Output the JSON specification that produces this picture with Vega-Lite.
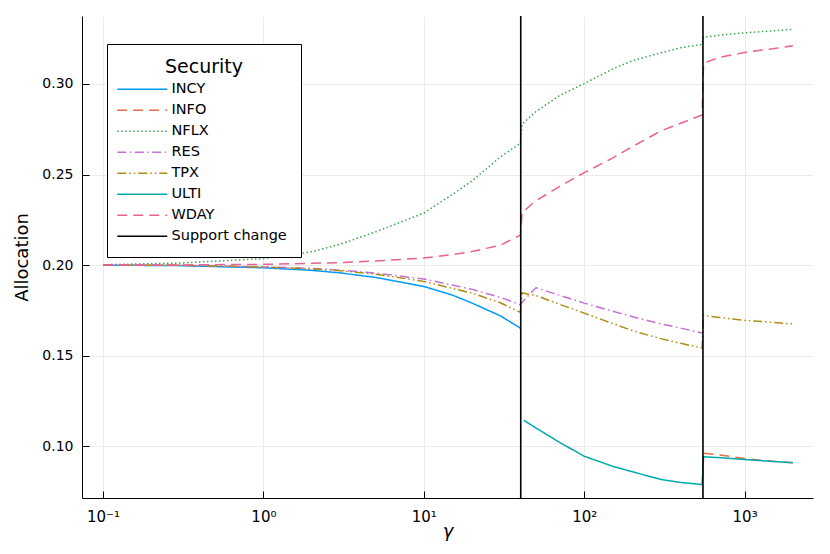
{
  "$schema": "https://vega.github.io/schema/vega-lite/v6.json",
  "autosize": {"type": "none"},
  "padding": {"left": 82, "top": 16, "right": 17, "bottom": 56},
  "width": 731,
  "height": 482,
  "config": {
    "view": {"stroke": null},
    "font": "DejaVu Sans",
    "axis": {
      "domainColor": "black",
      "domainWidth": 1,
      "tickColor": "black",
      "tickWidth": 1,
      "tickSize": -7,
      "gridColor": "#ebebeb",
      "gridWidth": 1,
      "labelColor": "black",
      "titleColor": "black",
      "titleFontWeight": "normal"
    },
    "legend": {
      "orient": "none",
      "legendX": 25,
      "legendY": 28,
      "strokeColor": "black",
      "fillColor": "white",
      "padding": 14,
      "titleFontSize": 19,
      "titleFontWeight": "normal",
      "titleColor": "black",
      "titleAnchor": "middle",
      "titlePadding": 5,
      "labelFontSize": 14.5,
      "labelColor": "black",
      "symbolType": "M-5,0H5",
      "symbolSize": 100,
      "symbolOffset": 14,
      "labelOffset": 22,
      "symbolStrokeWidth": 1.5,
      "rowPadding": 6
    }
  },
  "layer": [
    {
      "data": {
        "values": [
          {"gamma": 0.1, "security": "INCY", "allocation": 0.2000},
          {"gamma": 0.3, "security": "INCY", "allocation": 0.1997},
          {"gamma": 1, "security": "INCY", "allocation": 0.1985},
          {"gamma": 2, "security": "INCY", "allocation": 0.1971},
          {"gamma": 3, "security": "INCY", "allocation": 0.1957},
          {"gamma": 5, "security": "INCY", "allocation": 0.1932},
          {"gamma": 10, "security": "INCY", "allocation": 0.1882},
          {"gamma": 15, "security": "INCY", "allocation": 0.1835},
          {"gamma": 20, "security": "INCY", "allocation": 0.1790},
          {"gamma": 30, "security": "INCY", "allocation": 0.1720},
          {"gamma": 40, "security": "INCY", "allocation": 0.1652},

          {"gamma": 555, "security": "INFO", "allocation": 0.0962},
          {"gamma": 700, "security": "INFO", "allocation": 0.0952},
          {"gamma": 1000, "security": "INFO", "allocation": 0.0932},
          {"gamma": 1500, "security": "INFO", "allocation": 0.0917},
          {"gamma": 2000, "security": "INFO", "allocation": 0.0909},

          {"gamma": 0.1, "security": "NFLX", "allocation": 0.2002},
          {"gamma": 0.3, "security": "NFLX", "allocation": 0.2011},
          {"gamma": 1, "security": "NFLX", "allocation": 0.2036},
          {"gamma": 2, "security": "NFLX", "allocation": 0.2073},
          {"gamma": 3, "security": "NFLX", "allocation": 0.2115},
          {"gamma": 5, "security": "NFLX", "allocation": 0.2183},
          {"gamma": 10, "security": "NFLX", "allocation": 0.2287},
          {"gamma": 15, "security": "NFLX", "allocation": 0.2389},
          {"gamma": 20, "security": "NFLX", "allocation": 0.2465},
          {"gamma": 30, "security": "NFLX", "allocation": 0.2597},
          {"gamma": 40, "security": "NFLX", "allocation": 0.2672},
          {"gamma": 41, "security": "NFLX", "allocation": 0.2778},
          {"gamma": 50, "security": "NFLX", "allocation": 0.2847},
          {"gamma": 70, "security": "NFLX", "allocation": 0.2935},
          {"gamma": 100, "security": "NFLX", "allocation": 0.3002},
          {"gamma": 150, "security": "NFLX", "allocation": 0.3082},
          {"gamma": 200, "security": "NFLX", "allocation": 0.3128},
          {"gamma": 300, "security": "NFLX", "allocation": 0.3172},
          {"gamma": 400, "security": "NFLX", "allocation": 0.3200},
          {"gamma": 543, "security": "NFLX", "allocation": 0.3218},
          {"gamma": 555, "security": "NFLX", "allocation": 0.3257},
          {"gamma": 700, "security": "NFLX", "allocation": 0.3269},
          {"gamma": 1000, "security": "NFLX", "allocation": 0.3282},
          {"gamma": 1500, "security": "NFLX", "allocation": 0.3293},
          {"gamma": 2000, "security": "NFLX", "allocation": 0.3301},

          {"gamma": 0.1, "security": "RES", "allocation": 0.2000},
          {"gamma": 0.3, "security": "RES", "allocation": 0.1999},
          {"gamma": 1, "security": "RES", "allocation": 0.1990},
          {"gamma": 2, "security": "RES", "allocation": 0.1982},
          {"gamma": 3, "security": "RES", "allocation": 0.1972},
          {"gamma": 5, "security": "RES", "allocation": 0.1956},
          {"gamma": 10, "security": "RES", "allocation": 0.1923},
          {"gamma": 15, "security": "RES", "allocation": 0.1890},
          {"gamma": 20, "security": "RES", "allocation": 0.1866},
          {"gamma": 30, "security": "RES", "allocation": 0.1822},
          {"gamma": 40, "security": "RES", "allocation": 0.1781},
          {"gamma": 41, "security": "RES", "allocation": 0.1795},
          {"gamma": 50, "security": "RES", "allocation": 0.1875},
          {"gamma": 70, "security": "RES", "allocation": 0.1834},
          {"gamma": 100, "security": "RES", "allocation": 0.1790},
          {"gamma": 150, "security": "RES", "allocation": 0.1746},
          {"gamma": 200, "security": "RES", "allocation": 0.1715},
          {"gamma": 300, "security": "RES", "allocation": 0.1676},
          {"gamma": 400, "security": "RES", "allocation": 0.1652},
          {"gamma": 543, "security": "RES", "allocation": 0.1625},

          {"gamma": 0.1, "security": "TPX", "allocation": 0.2000},
          {"gamma": 0.3, "security": "TPX", "allocation": 0.1999},
          {"gamma": 1, "security": "TPX", "allocation": 0.1989},
          {"gamma": 2, "security": "TPX", "allocation": 0.1979},
          {"gamma": 3, "security": "TPX", "allocation": 0.1969},
          {"gamma": 5, "security": "TPX", "allocation": 0.1950},
          {"gamma": 10, "security": "TPX", "allocation": 0.1910},
          {"gamma": 15, "security": "TPX", "allocation": 0.1872},
          {"gamma": 20, "security": "TPX", "allocation": 0.1845},
          {"gamma": 30, "security": "TPX", "allocation": 0.1792},
          {"gamma": 40, "security": "TPX", "allocation": 0.1739},
          {"gamma": 41, "security": "TPX", "allocation": 0.1846},
          {"gamma": 50, "security": "TPX", "allocation": 0.1832},
          {"gamma": 70, "security": "TPX", "allocation": 0.1784},
          {"gamma": 100, "security": "TPX", "allocation": 0.1735},
          {"gamma": 150, "security": "TPX", "allocation": 0.1678},
          {"gamma": 200, "security": "TPX", "allocation": 0.1638},
          {"gamma": 300, "security": "TPX", "allocation": 0.1594},
          {"gamma": 400, "security": "TPX", "allocation": 0.1568},
          {"gamma": 543, "security": "TPX", "allocation": 0.1542},
          {"gamma": 555, "security": "TPX", "allocation": 0.1722},
          {"gamma": 700, "security": "TPX", "allocation": 0.1711},
          {"gamma": 1000, "security": "TPX", "allocation": 0.1695},
          {"gamma": 1500, "security": "TPX", "allocation": 0.1684},
          {"gamma": 2000, "security": "TPX", "allocation": 0.1675},

          {"gamma": 42, "security": "ULTI", "allocation": 0.1143},
          {"gamma": 50, "security": "ULTI", "allocation": 0.1101},
          {"gamma": 70, "security": "ULTI", "allocation": 0.1022},
          {"gamma": 100, "security": "ULTI", "allocation": 0.0945},
          {"gamma": 150, "security": "ULTI", "allocation": 0.0890},
          {"gamma": 200, "security": "ULTI", "allocation": 0.0859},
          {"gamma": 300, "security": "ULTI", "allocation": 0.0817},
          {"gamma": 400, "security": "ULTI", "allocation": 0.0800},
          {"gamma": 543, "security": "ULTI", "allocation": 0.0789},
          {"gamma": 555, "security": "ULTI", "allocation": 0.0942},
          {"gamma": 700, "security": "ULTI", "allocation": 0.0937},
          {"gamma": 1000, "security": "ULTI", "allocation": 0.0927},
          {"gamma": 1500, "security": "ULTI", "allocation": 0.0916},
          {"gamma": 2000, "security": "ULTI", "allocation": 0.0909},

          {"gamma": 0.1, "security": "WDAY", "allocation": 0.2000},
          {"gamma": 0.3, "security": "WDAY", "allocation": 0.2001},
          {"gamma": 1, "security": "WDAY", "allocation": 0.2004},
          {"gamma": 2, "security": "WDAY", "allocation": 0.2010},
          {"gamma": 3, "security": "WDAY", "allocation": 0.2014},
          {"gamma": 5, "security": "WDAY", "allocation": 0.2022},
          {"gamma": 10, "security": "WDAY", "allocation": 0.2039},
          {"gamma": 15, "security": "WDAY", "allocation": 0.2058},
          {"gamma": 20, "security": "WDAY", "allocation": 0.2075},
          {"gamma": 30, "security": "WDAY", "allocation": 0.2110},
          {"gamma": 40, "security": "WDAY", "allocation": 0.2165},
          {"gamma": 41, "security": "WDAY", "allocation": 0.2290},
          {"gamma": 50, "security": "WDAY", "allocation": 0.2355},
          {"gamma": 70, "security": "WDAY", "allocation": 0.2433},
          {"gamma": 100, "security": "WDAY", "allocation": 0.2510},
          {"gamma": 150, "security": "WDAY", "allocation": 0.2590},
          {"gamma": 200, "security": "WDAY", "allocation": 0.2654},
          {"gamma": 300, "security": "WDAY", "allocation": 0.2740},
          {"gamma": 400, "security": "WDAY", "allocation": 0.2783},
          {"gamma": 543, "security": "WDAY", "allocation": 0.2829},
          {"gamma": 555, "security": "WDAY", "allocation": 0.3115},
          {"gamma": 700, "security": "WDAY", "allocation": 0.3147},
          {"gamma": 1000, "security": "WDAY", "allocation": 0.3174},
          {"gamma": 1500, "security": "WDAY", "allocation": 0.3194},
          {"gamma": 2000, "security": "WDAY", "allocation": 0.3211}
        ]
      },
      "mark": {"type": "line", "strokeWidth": 1.5, "clip": true},
      "encoding": {
        "x": {
          "field": "gamma",
          "type": "quantitative",
          "scale": {"type": "log", "domain": [0.07396, 2669], "nice": false},
          "axis": {
            "values": [0.1, 1, 10, 100, 1000],
            "labelExpr": "datum.value < 0.5 ? '10⁻¹' : datum.value < 5 ? '10⁰' : datum.value < 50 ? '10¹' : datum.value < 500 ? '10²' : '10³'",
            "labelFontSize": 15,
            "labelPadding": 18,
            "title": "γ",
            "titleFontSize": 18,
            "titleFontStyle": "italic",
            "titlePadding": -2
          }
        },
        "y": {
          "field": "allocation",
          "type": "quantitative",
          "scale": {"domain": [0.07144, 0.33749], "nice": false, "zero": false},
          "axis": {
            "values": [0.10, 0.15, 0.20, 0.25, 0.30],
            "format": ".2f",
            "labelFontSize": 14,
            "labelPadding": 16,
            "title": "Allocation",
            "titleFontSize": 18,
            "titlePadding": 10
          }
        },
        "color": {
          "field": "security",
          "type": "nominal",
          "title": "Security",
          "scale": {
            "domain": ["INCY", "INFO", "NFLX", "RES", "TPX", "ULTI", "WDAY", "Support change"],
            "range": ["#009AFA", "#E36F47", "#3EA44E", "#C371D2", "#AC8D18", "#00A9AD", "#ED5E93", "#000000"]
          }
        },
        "strokeDash": {
          "field": "security",
          "type": "nominal",
          "title": "Security",
          "scale": {
            "domain": ["INCY", "INFO", "NFLX", "RES", "TPX", "ULTI", "WDAY", "Support change"],
            "range": [[1, 0], [10, 6], [1.5, 2.5], [9, 3.5, 1.5, 3.5], [9, 3, 1.5, 3, 1.5, 3], [1, 0], [10, 6], [1, 0]]
          }
        }
      }
    },
    {
      "data": {
        "values": [
          {"gamma": 40.2, "security": "Support change"},
          {"gamma": 550, "security": "Support change"}
        ]
      },
      "mark": {"type": "rule", "strokeWidth": 1.6},
      "encoding": {
        "x": {"field": "gamma", "type": "quantitative"},
        "color": {"field": "security", "type": "nominal"},
        "strokeDash": {"field": "security", "type": "nominal"}
      }
    }
  ]
}
